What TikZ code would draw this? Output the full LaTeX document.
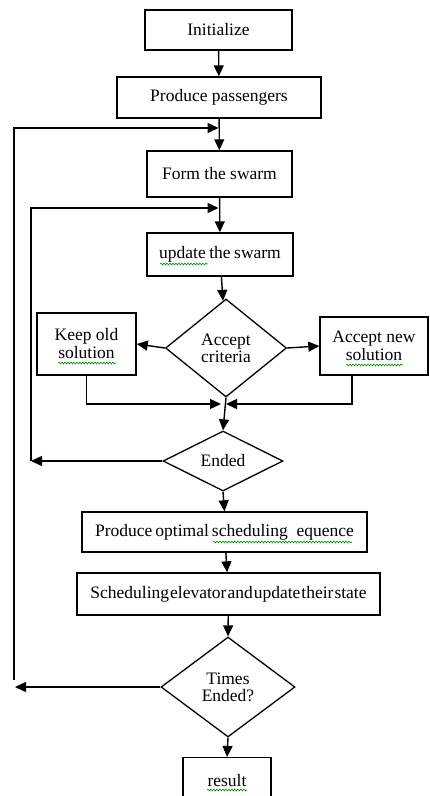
\documentclass[tikz,border=0pt]{standalone}
\usepackage{fontspec}
\setmainfont{Liberation Serif}
\usetikzlibrary{arrows.meta,shapes.geometric,decorations.pathmorphing}
\begin{document}
\begin{tikzpicture}[x=1pt,y=-1pt,
  font=\fontsize{17.5}{19}\selectfont,
  box/.style={draw,line width=1.4pt,inner sep=0pt,align=center},
  dia/.style={draw,diamond,line width=1.3pt,inner sep=0pt,align=center},
  ar/.style={line width=1.4pt,-{Triangle[length=11pt,width=10pt]}},
  sq/.style={draw=green!55!black,line width=0.6pt,decorate,decoration={snake,amplitude=0.9pt,segment length=3pt}}]
\useasboundingbox (0,0) rectangle (429,796);
\clip (0,0) rectangle (429,796);
\node[box,minimum width=147pt,minimum height=40pt] (init) at (218.5,30) {Initialize};
\node[box,minimum width=204pt,minimum height=41pt] (prod) at (219,97.5) {Produce passengers};
\node[box,minimum width=145pt,minimum height=46pt] (form) at (219.5,174) {Form the swarm};
\node[box,minimum width=146pt,minimum height=43pt] (upd) at (220,254.5) {\spaceskip=3.5pt update the swarm};
\node[dia,minimum width=121pt,minimum height=98pt] (acc) at (226,348) {Accept\\[-2pt]criteria};
\node[box,minimum width=99pt,minimum height=62pt] (keep) at (86.5,344) {Keep old\\[-1pt]solution};
\node[box,minimum width=108pt,minimum height=58pt] (accn) at (374,346) {Accept new\\[-1pt]solution};
\node[dia,minimum width=120pt,minimum height=60pt] (ended) at (223,461) {Ended};
\node[box,minimum width=285pt,minimum height=40pt] (opt) at (224.5,532) {\spaceskip=3pt Produce optimal scheduling\,\,\,equence};
\node[box,minimum width=303pt,minimum height=42pt] (sched) at (228.5,594) {\spaceskip=1pt Scheduling elevator and update their state};
\node[dia,minimum width=134pt,minimum height=100pt] (times) at (228,687) {Times\\[-2pt]Ended?};
\node[box,minimum width=88pt,minimum height=60pt,anchor=north] (res) at (227,757) {};
\node (restxt) at (227,781) {result};
% coordinates
\coordinate (m1) at (218.5,128);
\coordinate (o1) at (14,128);
\coordinate (o2) at (14,680);
\coordinate (ot) at (15,687);
\coordinate (m2) at (218.5,208);
\coordinate (i1) at (31,208);
\coordinate (i2) at (31,461);
\coordinate (jl) at (221,404);
\coordinate (jr) at (226,404);
% connectors
\draw[ar] (init) -- (prod);
\draw[ar] (prod) -- (form);
\draw[ar] (o2) -- (o1) -- (m1);
\draw[ar] (form) -- (upd);
\draw[ar] (i2) -- (i1) -- (m2);
\draw[ar] (upd) -- (acc);
\draw[ar] (acc.west) -- (keep.east);
\draw[ar] (acc.east) -- (accn.west);
\draw[ar] (keep.south) |- (jl);
\draw[ar] ([xshift=-22pt]accn.south) |- (jr);
\draw[ar] (acc.south) -- (ended.north);
\draw[ar] (ended.west) -- (i2);
\draw[ar] (ended.south) -- (opt.north);
\draw[ar] (opt) -- (sched);
\draw[ar] (sched) -- (times.north);
\draw[ar] (times.west) -- (ot);
\draw[ar] (times.south) -- (res.north);
% spell-check squiggles
\draw[sq] (160,264) -- (208,264);
\draw[sq] (58,363) -- (116,363);
\draw[sq] (346,365) -- (403,365);
\draw[sq] (213,542) -- (352,542);
\draw[sq] (207,790) -- (247,790);
\end{tikzpicture}
\end{document}
